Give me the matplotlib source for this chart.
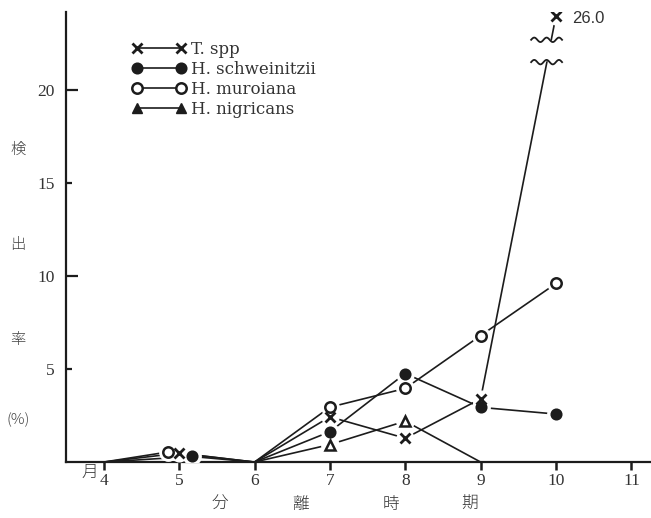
import numpy as np
import matplotlib
matplotlib.use("Agg")
import matplotlib.pyplot as plt
from matplotlib.lines import Line2D
from matplotlib.ticker import FixedLocator, FixedFormatter

"""
Detection rate (%) of fungi by isolation month
"""

months = [4, 5, 6, 7, 8, 9, 10]
t_spp = [0, 0.48, 0, 2.43, 1.28, 3.4, 26.0]
h_schweinitzii = [0, 0.3, 0, 1.63, 4.76, 2.94, 2.58]
h_muroiana = [0, 0.54, 0, 2.95, 3.96, 6.8, 9.6]
h_nigricans = [np.nan, np.nan, 0, 0.94, 2.2, 0, np.nan]

series_names = ["T. spp", "H. schweinitzii", "H. muroiana", "H. nigricans"]
may_dodge = [0.0, 0.17, -0.15, 0.0]  # points at month 5 are drawn side by side

x_ticks = [4, 5, 6, 7, 8, 9, 10, 11]
y_major = [10, 20]
y_minor = [5, 15]

BREAK_AT = 22.1   # values above this are drawn shifted down (broken axis)
BREAK_GAP = 2.0

INK = "#1c1c1c"
SERIF = ["Liberation Serif", "DejaVu Serif"]
CJK = ["Noto Sans CJK JP", "DejaVu Sans"]


def to_display(vals):
    v = np.array(vals, dtype=float)
    return np.where(v > BREAK_AT, v - BREAK_GAP, v)


fig = plt.figure(figsize=(6.51, 5.18), dpi=100)
ax = fig.add_axes([0.101, 0.108, 0.899, 0.869])
ax.set_xlim(3.496, 11.26)
ax.set_ylim(0, 24.2)

styles = [
    dict(marker="x", ms=7, mew=2.0, mfc=INK, mec=INK),
    dict(marker="o", ms=7.5, mew=1.2, mfc=INK, mec=INK),
    dict(marker="o", ms=7.5, mew=1.8, mfc="white", mec=INK),
    dict(marker="^", ms=7.5, mew=1.8, mfc="white", mec=INK),
]

all_series = [t_spp, h_schweinitzii, h_muroiana, h_nigricans]
for vals, st, dodge in zip(all_series, styles, may_dodge):
    xs = np.array(months, dtype=float)
    xs[xs == 5] += dodge
    ys = to_display(vals)
    ax.plot(xs, ys, color=INK, lw=1.2, zorder=2, solid_capstyle="butt")
    mark = ys > 0
    # white halo so lines stop short of the markers
    ax.plot(xs[mark], ys[mark], ls="none", marker="o", ms=st["ms"] + 5,
            mfc="white", mec="white", zorder=3)
    ax.plot(xs[mark], ys[mark], ls="none", zorder=4, **st)

# broken axis marks on the T. spp line
top_val = t_spp[-1]
wx = np.linspace(9.67, 10.08, 60)
wave = 0.12 * np.sin((wx - 9.67) / 0.41 * 2 * np.pi * 2.5)
lo, hi = BREAK_AT - 0.6, BREAK_AT + 0.6
ax.fill_between(wx, lo + wave, hi + wave, color="white", zorder=5)
ax.plot(wx, lo + wave, color=INK, lw=1.3, zorder=6)
ax.plot(wx, hi + wave, color=INK, lw=1.3, zorder=6)
ax.text(10.22, to_display([top_val])[0] - 0.15, f"{top_val:.1f}", fontsize=12,
        family=["Liberation Sans Narrow", "Liberation Sans", "DejaVu Sans"],
        color="#333333", va="center", ha="left", zorder=7)

# axes styling
for side in ["top", "right"]:
    ax.spines[side].set_visible(False)
ax.spines["left"].set_linewidth(1.6)
ax.spines["bottom"].set_linewidth(1.6)
ax.spines["left"].set_color(INK)
ax.spines["bottom"].set_color(INK)

ax.set_xticks(x_ticks)
ax.set_xticklabels([str(m) for m in x_ticks], family=SERIF, fontsize=12.5, color="#333333")
ax.tick_params(axis="x", direction="out", length=6, width=1.8, color=INK, pad=2)

ax.yaxis.set_major_locator(FixedLocator(y_major))
ax.yaxis.set_major_formatter(FixedFormatter([str(v) for v in y_major]))
ax.yaxis.set_minor_locator(FixedLocator(y_minor))
ax.yaxis.set_minor_formatter(FixedFormatter([str(v) for v in y_minor]))
ax.tick_params(axis="y", which="major", direction="in", length=8.5, width=1.6,
               color=INK, pad=8, labelsize=12.5, labelcolor="#333333")
ax.tick_params(axis="y", which="minor", direction="in", length=4.5, width=1.6,
               color=INK, pad=8, labelsize=12.5, labelcolor="#333333")
for lab in ax.get_yticklabels(which="both"):
    lab.set_family(SERIF)

# legend (triangle filled in the key)
handles = [
    Line2D([], [], color=INK, lw=1.2, **styles[0]),
    Line2D([], [], color=INK, lw=1.2, **styles[1]),
    Line2D([], [], color=INK, lw=1.2, **styles[2]),
    Line2D([], [], color=INK, lw=1.2, marker="^", ms=7.5, mfc=INK, mec=INK),
]
leg = ax.legend(handles, series_names, loc="upper left", bbox_to_anchor=(0.088, 0.968),
                numpoints=2, handlelength=3.2, handletextpad=0.3, labelspacing=0.17,
                frameon=False, prop={"family": ["DejaVu Serif"], "size": 12})
for t in leg.get_texts():
    t.set_color("#333333")

# vertical y label, one character at a time
for ch, y in zip(["検", "出", "率", "(%)"], [0.71, 0.527, 0.343, 0.19]):
    fig.text(0.028, y, ch, family=CJK, fontsize=11, color="#444444",
             ha="center", va="center", fontweight="light")

# x label spread along the axis
for ch, x in zip(["分", "離", "時", "期"], [0.338, 0.462, 0.6, 0.722]):
    fig.text(x, 0.026, ch, family=CJK, fontsize=12, color="#333333",
             ha="center", va="center", fontweight="light")
fig.text(0.138, 0.086, "月", family=CJK, fontsize=12, color="#333333",
         ha="center", va="center", fontweight="light")

fig.savefig("out.png", dpi=100)
